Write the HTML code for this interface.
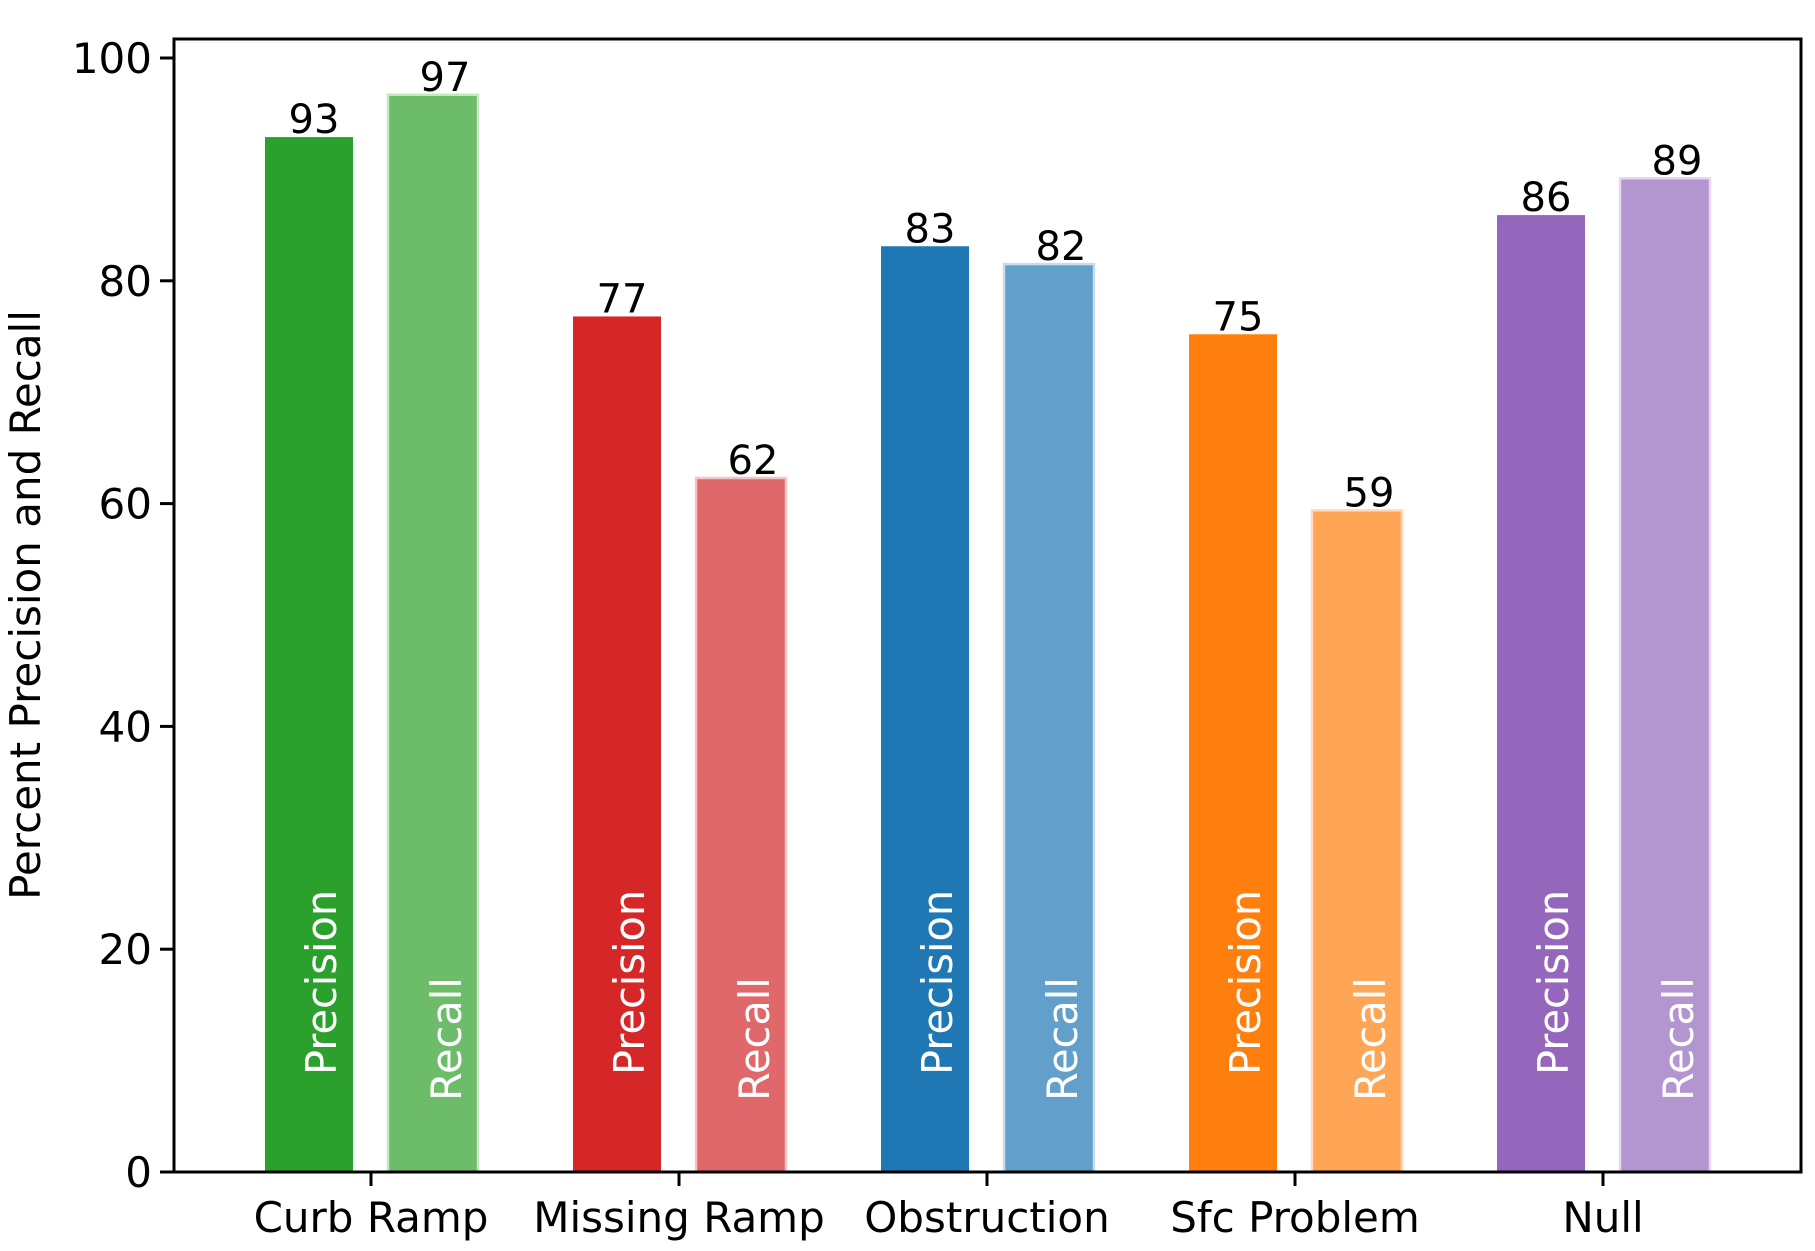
<!DOCTYPE html>
<html><head><meta charset="utf-8"><style>
body{margin:0;background:#fff}
svg{display:block;font-family:"DejaVu Sans","Liberation Sans",sans-serif}
</style></head><body>
<svg id="chart" width="1815" height="1251" viewBox="0 0 1815 1251">
<g id="bars"></g>
<g id="axes"></g>
</svg>
<script>
const categories = ["Curb Ramp","Missing Ramp","Obstruction","Sfc Problem","Null"];
const precision = [92.9, 76.8, 83.1, 75.2, 85.9];
const recall = [96.7, 62.3, 81.5, 59.4, 89.2];
const yTicks = [0, 20, 40, 60, 80, 100];
const precColors = ["#2ca02c","#d62728","#1f77b4","#ff7f0e","#9467bd"];
const recColors = ["#6cbc6a","#e1686a","#62a0cb","#ffa556","#b395cf"];
const recEdges = ["#c6e6c4","#f2c6c6","#c8dcec","#ffdcc0","#e3d8ee"];

const NS = "http://www.w3.org/2000/svg";
const L = 174, R = 1801, T = 39, B = 1172;
const y = v => B - (v / 100) * (B - 58);
const x = i => 371 + i * 308;
const BW = 88;
function mk(tag, attrs, parent, text){
  const e = document.createElementNS(NS, tag);
  for (const k in attrs) e.setAttribute(k, attrs[k]);
  if (text !== undefined) e.textContent = text;
  parent.appendChild(e); return e;
}
const bars = document.getElementById('bars');
const axes = document.getElementById('axes');
categories.forEach((c, i) => {
  const px = x(i) - 106, rx = x(i) + 17;
  const pb = mk('rect', {x: px, y: y(precision[i]), width: BW, height: B - y(precision[i]), fill: precColors[i]}, bars);
  
  
  const rb = mk('rect', {x: rx, y: y(recall[i]), width: 90, height: B - y(recall[i]), fill: recColors[i], stroke: recEdges[i], 'stroke-width': 2.5}, bars);
  
  
  const pl = mk('text', {x: px + BW/2 + 5, y: y(precision[i]) - 4, 'font-size': 40, 'text-anchor': 'middle', fill: '#000'}, bars, Math.round(precision[i]));
  
  
  const rl = mk('text', {x: rx + 45 + 12, y: y(recall[i]) - 4, 'font-size': 40, 'text-anchor': 'middle', fill: '#000'}, bars, Math.round(recall[i]));
  
  
  const pt = mk('text', {x: 0, y: 0, 'font-size': 41.5, fill: '#fff', transform: `translate(${px+BW/2+27},1075) rotate(-90)`}, bars, 'Precision');
  
  
  const rt = mk('text', {x: 0, y: 0, 'font-size': 41.5, fill: '#fff', transform: `translate(${rx+45+28},1101) rotate(-90)`}, bars, 'Recall');
  
  
  const tk = mk('line', {x1: x(i), x2: x(i), y1: B, y2: B + 14, stroke: '#000', 'stroke-width': 3}, axes);
  
  
  const cl = mk('text', {x: x(i), y: 1232, 'font-size': 42, 'text-anchor': 'middle', fill: '#000'}, axes, c);
  
  
});
yTicks.forEach(v => {
  const tk = mk('line', {x1: L - 14, x2: L, y1: y(v), y2: y(v), stroke: '#000', 'stroke-width': 3}, axes);
  
  
  const tl = mk('text', {x: L - 22, y: y(v) + 15, 'font-size': 42, 'text-anchor': 'end', fill: '#000'}, axes, v);
  
  
});
const frame = mk('rect', {x: L, y: T, width: R - L, height: B - T, fill: 'none', stroke: '#000', 'stroke-width': 3}, axes);


const yt = mk('text', {x: 0, y: 0, 'font-size': 42, 'text-anchor': 'middle', fill: '#000', transform: 'translate(40,605) rotate(-90)'}, axes, 'Percent Precision and Recall');


</script>
</body></html>
